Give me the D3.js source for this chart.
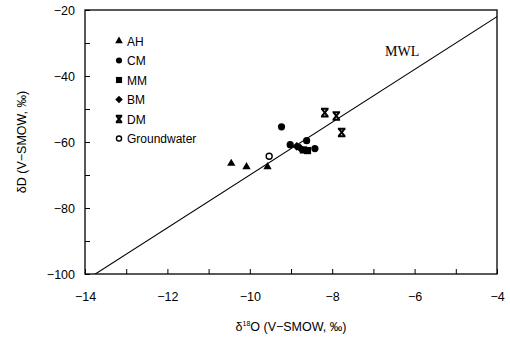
<!DOCTYPE html>
<html>
<head>
<meta charset="utf-8">
<script src="https://cdn.jsdelivr.net/npm/d3@7"></script>
<style>
  body { margin: 0; background: #fff; }
  text { font-family: "Liberation Sans", Arial, sans-serif; fill: #000; }
</style>
</head>
<body>
<div id="chart"></div>
<script>
// data
const xTicks = [-14, -12, -10, -8, -6, -4];
const yTicks = [-20, -40, -60, -80, -100];
const groups = ["AH", "CM", "MM", "BM", "DM", "Groundwater"];
const ahPoints = [[-10.45, -66.5], [-10.08, -67.5], [-9.57, -67.5]];
const cmPoints = [[-9.23, -55.4], [-9.02, -60.8], [-8.62, -59.6], [-8.42, -62.0]];
const mmPoints = [[-8.70, -62.4], [-8.60, -62.6]];
const bmPoints = [[-8.86, -61.3], [-8.78, -61.8]];
const dmPoints = [[-8.18, -51.1], [-7.90, -52.1], [-7.77, -57.1]];
const gwPoints = [[-9.53, -64.3]];
const mwlX = [-14, -4]; // δD = 8 δ18O + 10

const W = 510, H = 343;
const pLeft = 85, pRight = 497, pTop = 10, pBottom = 274;

const svg = d3.select("#chart").append("svg")
  .attr("width", W).attr("height", H);

const x = d3.scaleLinear().domain([-14, -4]).range([pLeft, pRight]);
const y = d3.scaleLinear().domain([-100, -20]).range([pBottom, pTop]);

svg.append("clipPath").attr("id", "clip")
  .append("rect").attr("x", pLeft).attr("y", pTop)
  .attr("width", pRight - pLeft).attr("height", pBottom - pTop);

// MWL
svg.append("line")
  .attr("clip-path", "url(#clip)")
  .attr("x1", x(mwlX[0])).attr("y1", y(8 * mwlX[0] + 10))
  .attr("x2", x(mwlX[1])).attr("y2", y(8 * mwlX[1] + 10))
  .attr("stroke", "#000").attr("stroke-width", 1.1);

svg.append("text").attr("x", 385).attr("y", 56)
  .style("font-family", "'Liberation Serif', 'Times New Roman', serif")
  .style("font-size", "14px").text("MWL");

// frame
svg.append("rect").attr("x", pLeft).attr("y", pTop)
  .attr("width", pRight - pLeft).attr("height", pBottom - pTop)
  .attr("fill", "none").attr("stroke", "#000").attr("stroke-width", 1.3);

// axes with inward ticks
const xAxis = d3.axisBottom(x).tickValues(d3.range(-14, -3, 1))
  .tickSizeInner(-5).tickSizeOuter(0)
  .tickFormat(d => xTicks.includes(d) ? String(d).replace("-", "\u2212") : "");
const gx = svg.append("g").attr("transform", `translate(0,${pBottom})`).call(xAxis);
gx.select(".domain").remove();
gx.selectAll("text").attr("y", 18).attr("dy", "0.71em").style("font-size", "12.5px");

const yAxis = d3.axisLeft(y).tickValues(d3.range(-100, -19, 10))
  .tickSizeInner(-5).tickSizeOuter(0)
  .tickFormat(d => yTicks.includes(d) ? String(d).replace("-", "\u2212") : "");
const gy = svg.append("g").attr("transform", `translate(${pLeft},0)`).call(yAxis);
gy.select(".domain").remove();
gy.selectAll("text").attr("x", -10).style("font-size", "12.5px");

// axis titles
const xt = svg.append("text").attr("x", 291).attr("y", 331)
  .attr("text-anchor", "middle").style("font-size", "12.5px");
xt.append("tspan").text("\u03b4");
xt.append("tspan").attr("dy", -5).style("font-size", "7px").text("18");
xt.append("tspan").attr("dy", 5).text("O (V\u2212SMOW, \u2030)");

svg.append("text")
  .attr("transform", `translate(26,${(pTop + pBottom) / 2}) rotate(-90)`)
  .attr("text-anchor", "middle").style("font-size", "12.5px")
  .text("\u03b4D (V\u2212SMOW, \u2030)");

// markers
function marker(g, type, s) {
  if (type === "AH") {
    g.append("path").attr("d", d3.symbol(d3.symbolTriangle, 30 * s)()).attr("fill", "#000");
  } else if (type === "CM") {
    g.append("circle").attr("r", 3.6 * s).attr("fill", "#000");
  } else if (type === "MM") {
    g.append("rect").attr("x", -3.6 * s).attr("y", -3.6 * s)
      .attr("width", 7.2 * s).attr("height", 7.2 * s).attr("fill", "#000");
  } else if (type === "BM") {
    const r = 4.4 * s;
    g.append("path").attr("d", `M0,${-r}L${r},0L0,${r}L${-r},0Z`).attr("fill", "#000");
  } else if (type === "DM") {
    const r = 3.8 * s;
    g.append("path")
      .attr("d", `M${-r},${-r}L${r},${-r}M${-r},${r}L${r},${r}M${-r * 0.8},${-r}L${r * 0.8},${r}M${r * 0.8},${-r}L${-r * 0.8},${r}`)
      .attr("stroke", "#000").attr("stroke-width", 2).attr("fill", "none");
  } else {
    g.append("circle").attr("r", 3 * s).attr("fill", "#fff")
      .attr("stroke", "#000").attr("stroke-width", 1.4);
  }
}

const series = [
  ["AH", ahPoints], ["CM", cmPoints], ["MM", mmPoints],
  ["BM", bmPoints], ["DM", dmPoints], ["Groundwater", gwPoints]
];
series.forEach(([name, pts]) => {
  pts.forEach(p => {
    const g = svg.append("g").attr("transform", `translate(${x(p[0])},${y(p[1])})`);
    marker(g, name, 1);
  });
});

// legend
groups.forEach((name, i) => {
  const ly = 41 + i * 19.5;
  const g = svg.append("g").attr("transform", `translate(119,${ly})`);
  marker(g, name, 0.85);
  svg.append("text").attr("x", 127).attr("y", ly + 4.5)
    .style("font-size", "12px").text(name);
});
</script>
</body>
</html>
